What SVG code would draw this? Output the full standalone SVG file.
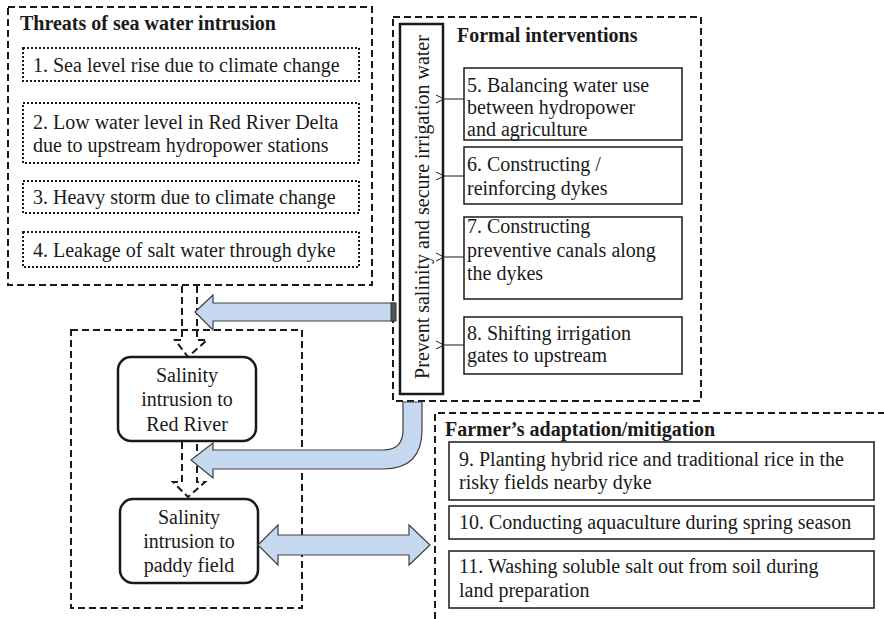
<svg xmlns="http://www.w3.org/2000/svg" width="884" height="619" viewBox="0 0 884 619">
<style>
text{font-family:"Liberation Serif","Times New Roman",serif;font-size:20px;fill:#1a1a1a}
.b{font-weight:bold;font-size:20px}
.c{text-anchor:middle}
.dash{fill:none;stroke:#1a1a1a;stroke-width:2;stroke-dasharray:7,4}
.dot{fill:none;stroke:#1a1a1a;stroke-width:2;stroke-dasharray:2,2}
.box{fill:#fff;stroke:#1a1a1a;stroke-width:1.5}
.rbox{fill:#fff;stroke:#1a1a1a;stroke-width:2.5}
.blue{fill:#c6d9f0;stroke:#404040;stroke-width:1.2}
.thin{fill:none;stroke:#1a1a1a;stroke-width:1}
</style>
<defs>
<marker id="open" markerWidth="10" markerHeight="10" refX="1" refY="5" orient="auto" markerUnits="userSpaceOnUse">
<path d="M9,1 L1,5 L9,9" fill="none" stroke="#1a1a1a" stroke-width="1"/>
</marker>
</defs>

<g id="threats">
<rect class="dash" x="8" y="7" width="364" height="278"/>
<text class="b" x="20" y="30">Threats of sea water intrusion</text>
</g>
<g id="threat1"><rect class="dot" x="23" y="48" width="336" height="33"/><text x="33" y="72">1. Sea level rise due to climate change</text></g>
<g id="threat2"><rect class="dot" x="23" y="103" width="336" height="60"/><text x="33" y="129">2. Low water level in Red River Delta</text><text x="33" y="152">due to upstream hydropower stations</text></g>
<g id="threat3"><rect class="dot" x="23" y="181" width="336" height="32"/><text x="33" y="204">3. Heavy storm due to climate change</text></g>
<g id="threat4"><rect class="dot" x="23" y="232" width="336" height="35"/><text x="33" y="257">4. Leakage of salt water through dyke</text></g>

<g id="formal">
<rect class="dash" x="393" y="17" width="308" height="384"/>
<text class="b" x="457" y="42">Formal interventions</text>
</g>
<g id="prevent">
<rect class="rbox" x="400" y="24" width="43" height="370"/>
<text class="c" transform="translate(429,207) rotate(-90)">Prevent salinity and secure irrigation water</text>
</g>
<g id="f5"><rect class="box" x="464" y="68" width="218" height="72"/><text x="467" y="92">5. Balancing water use</text><text x="467" y="114">between hydropower</text><text x="467" y="136">and agriculture</text></g>
<g id="f6"><rect class="box" x="464" y="147" width="218" height="57"/><text x="467" y="171">6. Constructing /</text><text x="467" y="195">reinforcing dykes</text></g>
<g id="f7"><rect class="box" x="464" y="217" width="218" height="82"/><text x="467" y="233">7. Constructing</text><text x="467" y="257">preventive canals along</text><text x="467" y="280">the dykes</text></g>
<g id="f8"><rect class="box" x="464" y="317" width="218" height="57"/><text x="467" y="340">8. Shifting irrigation</text><text x="467" y="362">gates to upstream</text></g>

<g id="riskzone"><rect class="dash" x="71" y="330" width="231" height="278"/></g>
<g id="redriver"><rect class="rbox" x="118" y="357" width="138" height="84" rx="13"/><text class="c" x="187" y="382">Salinity</text><text class="c" x="187" y="406">intrusion to</text><text class="c" x="187" y="431">Red River</text></g>
<g id="paddy"><rect class="rbox" x="120" y="499" width="138" height="84" rx="13"/><text class="c" x="189" y="524">Salinity</text><text class="c" x="189" y="548">intrusion to</text><text class="c" x="189" y="572">paddy field</text></g>

<g id="farmer">
<path class="dash" d="M435,619 L435,413 L884,413"/>
<text class="b" x="445" y="436">Farmer’s adaptation/mitigation</text>
</g>
<g id="a9"><rect class="box" x="449" y="442" width="425" height="58"/><text x="459" y="466">9. Planting hybrid rice and traditional rice in the</text><text x="459" y="489">risky fields nearby dyke</text></g>
<g id="a10"><rect class="box" x="449" y="506" width="425" height="33"/><text x="459" y="529">10. Conducting aquaculture during spring season</text></g>
<g id="a11"><rect class="box" x="449" y="551" width="425" height="57"/><text x="459" y="573">11. Washing soluble salt out from soil during</text><text x="459" y="597">land preparation</text></g>

<g id="connectors">
<line class="thin" x1="464" y1="99" x2="444" y2="99" marker-end="url(#open)"/>
<line class="thin" x1="464" y1="176" x2="444" y2="176" marker-end="url(#open)"/>
<line class="thin" x1="464" y1="257" x2="444" y2="257" marker-end="url(#open)"/>
<line class="thin" x1="464" y1="345" x2="444" y2="345" marker-end="url(#open)"/>
<path class="dash" d="M182,286 L182,340 L175,340 L188,357 L207,340 L197,340 L197,286"/>
<path class="dash" d="M182,442 L182,482 L173,482 L188,497 L205,482 L197,482 L197,442"/>
<path class="blue" d="M394,303 L213,303 L213,295 L195,312 L213,330 L213,321 L394,321 Z"/>
<rect x="391" y="303" width="5" height="18" fill="#555" stroke="#333" stroke-width="1"/>
<path class="blue" d="M403,402 L422,402 L422,430 Q422,469 383,469 L213,469 L213,478 L191,460 L213,443 L213,450 L383,450 Q403,450 403,430 Z"/>
<path class="blue" d="M258,545 L278,525 L278,535 L409,535 L409,525 L430,545 L409,565 L409,555 L278,555 L278,565 Z"/>
</g>
</svg>
